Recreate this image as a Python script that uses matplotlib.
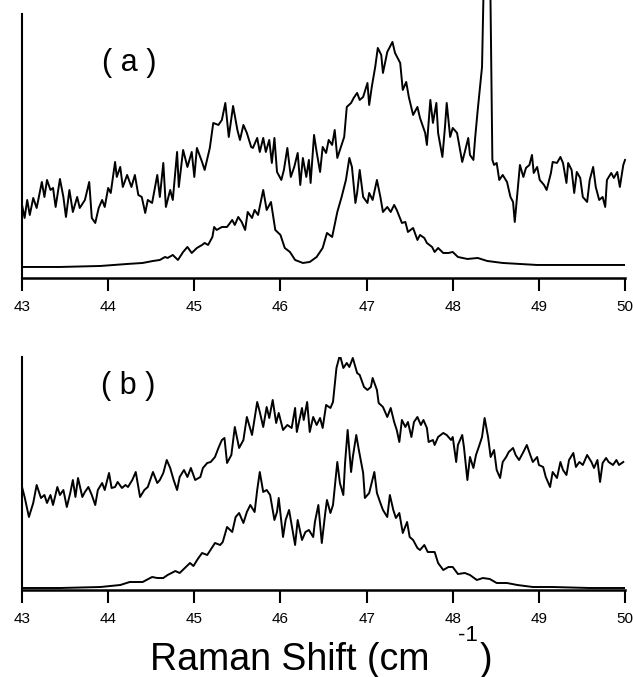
import numpy as np
import matplotlib.pyplot as plt

plt.rcParams['font.family'] = ['Liberation Sans', 'DejaVu Sans']

# ---- panel (a): upper (noisy) spectrum ----
a_up_x = [43.00, 43.03, 43.06, 43.09, 43.13, 43.17, 43.23, 43.26, 43.29, 43.33, 43.36, 43.39, 43.44, 43.48,
          43.51, 43.55, 43.59, 43.64, 43.67, 43.73, 43.78, 43.81, 43.85, 43.89, 43.93, 43.96, 44.00, 44.03,
          44.08, 44.10, 44.14, 44.17, 44.22, 44.27, 44.31, 44.35, 44.39, 44.43, 44.46, 44.51, 44.57, 44.60,
          44.64, 44.67, 44.72, 44.75, 44.80, 44.82, 44.87, 44.92, 44.97, 45.00, 45.03, 45.09, 45.12, 45.18,
          45.22, 45.28, 45.32, 45.36, 45.40, 45.45, 45.50, 45.53, 45.57, 45.61, 45.66, 45.68, 45.73, 45.76,
          45.80, 45.83, 45.87, 45.90, 45.93, 45.96, 46.01, 46.04, 46.08, 46.12, 46.16, 46.20, 46.23, 46.26,
          46.30, 46.33, 46.35, 46.39, 46.42, 46.46, 46.49, 46.53, 46.56, 46.60, 46.63, 46.66, 46.71, 46.74,
          46.77, 46.82, 46.85, 46.89, 46.92, 46.96, 47.01, 47.03, 47.06, 47.10, 47.13, 47.17, 47.19, 47.24,
          47.30, 47.33, 47.39, 47.42, 47.46, 47.49, 47.54, 47.59, 47.62, 47.68, 47.70, 47.74, 47.77, 47.81,
          47.83, 47.88, 47.91, 47.93, 47.97, 48.00, 48.05, 48.11, 48.14, 48.18, 48.20, 48.24, 48.26, 48.29,
          48.34, 48.37, 48.43, 48.46, 48.48, 48.51, 48.54, 48.58, 48.63, 48.67, 48.70, 48.72, 48.75, 48.78,
          48.82, 48.85, 48.89, 48.92, 48.94, 48.98, 49.01, 49.06, 49.09, 49.14, 49.16, 49.21, 49.25, 49.28,
          49.32, 49.34, 49.38, 49.41, 49.44, 49.48, 49.51, 49.56, 49.59, 49.63, 49.66, 49.70, 49.74, 49.77,
          49.79, 49.84, 49.87, 49.91, 49.94, 49.98, 50.00]
a_up_y = [73, 60, 78, 63, 80, 70, 96, 81, 98, 88, 90, 71, 99, 81,
          61, 88, 66, 81, 70, 78, 96, 60, 55, 70, 78, 71, 90, 85,
          116, 101, 111, 91, 103, 91, 103, 83, 81, 65, 78, 75, 103, 81,
          115, 71, 88, 78, 126, 91, 128, 111, 126, 101, 130, 116, 108, 130,
          155, 153, 158, 175, 141, 172, 148, 138, 153, 145, 131, 130, 140, 126,
          140, 126, 138, 115, 140, 106, 98, 108, 130, 101, 111, 125, 93, 120,
          101, 118, 95, 143, 126, 106, 131, 125, 138, 133, 148, 120, 133, 141,
          171, 175, 180, 185, 178, 181, 195, 173, 191, 211, 230, 223, 205, 226,
          236, 225, 215, 188, 196, 181, 163, 171, 160, 145, 133, 178, 155, 175,
          145, 121, 151, 175, 141, 150, 145, 116, 126, 140, 123, 118, 140, 168,
          211, 340, 340, 118, 113, 115, 98, 103, 96, 81, 76, 56, 85, 113,
          101, 110, 113, 123, 105, 111, 98, 93, 88, 105, 116, 115, 121, 115,
          95, 115, 108, 85, 106, 100, 81, 76, 98, 111, 91, 78, 81, 71,
          98, 105, 100, 106, 91, 113, 118]

# ---- panel (a): lower spectrum ----
a_lo_x = [43.00, 43.44, 43.91, 44.22, 44.40, 44.52, 44.60, 44.66, 44.69, 44.75, 44.81, 44.87, 44.92, 44.97,
          45.03, 45.09, 45.12, 45.16, 45.21, 45.23, 45.26, 45.32, 45.38, 45.44, 45.47, 45.51, 45.55, 45.59,
          45.62, 45.67, 45.70, 45.74, 45.80, 45.84, 45.89, 45.94, 46.00, 46.05, 46.11, 46.17, 46.26, 46.34,
          46.42, 46.49, 46.54, 46.60, 46.66, 46.71, 46.76, 46.80, 46.83, 46.87, 46.89, 46.92, 46.96, 47.01,
          47.03, 47.07, 47.12, 47.16, 47.19, 47.24, 47.28, 47.32, 47.35, 47.41, 47.45, 47.48, 47.54, 47.59,
          47.62, 47.67, 47.70, 47.76, 47.79, 47.83, 47.89, 47.95, 48.00, 48.06, 48.17, 48.29, 48.40, 48.58,
          48.98, 49.48, 50.00]
a_lo_y = [11, 11, 12, 14, 15, 17, 18, 21, 20, 23, 18, 26, 31, 25,
          30, 33, 35, 33, 41, 51, 48, 51, 51, 58, 53, 61, 56, 48,
          66, 60, 68, 63, 88, 68, 76, 48, 43, 30, 26, 18, 15, 16,
          21, 30, 45, 41, 66, 81, 98, 120, 111, 75, 85, 108, 81, 75,
          85, 78, 98, 81, 66, 71, 66, 73, 68, 55, 56, 46, 50, 38,
          43, 40, 35, 31, 26, 30, 25, 25, 26, 21, 19, 20, 17, 15,
          13, 13, 13]

# ---- panel (b): upper (noisy) spectrum ----
b_up_x = [43.00, 43.03, 43.08, 43.13, 43.17, 43.22, 43.26, 43.29, 43.33, 43.36, 43.41, 43.44, 43.48, 43.52,
          43.56, 43.59, 43.62, 43.65, 43.70, 43.73, 43.77, 43.81, 43.85, 43.88, 43.93, 43.96, 44.01, 44.04,
          44.08, 44.11, 44.16, 44.20, 44.23, 44.28, 44.32, 44.37, 44.42, 44.46, 44.52, 44.57, 44.60, 44.64,
          44.68, 44.72, 44.76, 44.80, 44.83, 44.88, 44.92, 44.96, 45.01, 45.07, 45.10, 45.15, 45.19, 45.24,
          45.28, 45.32, 45.35, 45.38, 45.43, 45.47, 45.52, 45.57, 45.61, 45.67, 45.73, 45.76, 45.80, 45.84,
          45.87, 45.91, 45.95, 45.98, 46.03, 46.08, 46.13, 46.17, 46.19, 46.25, 46.27, 46.31, 46.34, 46.38,
          46.42, 46.46, 46.49, 46.53, 46.58, 46.61, 46.65, 46.69, 46.73, 46.77, 46.80, 46.84, 46.89, 46.92,
          46.97, 47.01, 47.05, 47.07, 47.12, 47.14, 47.19, 47.24, 47.28, 47.32, 47.35, 47.38, 47.41, 47.45,
          47.48, 47.52, 47.55, 47.59, 47.63, 47.66, 47.70, 47.72, 47.77, 47.79, 47.83, 47.89, 47.93, 47.98,
          48.00, 48.04, 48.06, 48.11, 48.13, 48.17, 48.20, 48.24, 48.27, 48.31, 48.34, 48.37, 48.41, 48.44,
          48.48, 48.51, 48.55, 48.58, 48.62, 48.65, 48.70, 48.73, 48.77, 48.82, 48.86, 48.90, 48.93, 48.98,
          49.00, 49.05, 49.08, 49.13, 49.16, 49.21, 49.25, 49.28, 49.32, 49.35, 49.40, 49.43, 49.47, 49.51,
          49.56, 49.61, 49.64, 49.68, 49.71, 49.74, 49.78, 49.81, 49.86, 49.90, 49.93, 49.98]
b_up_y = [103, 93, 73, 87, 105, 92, 95, 87, 95, 85, 103, 95, 100, 83,
          97, 110, 93, 112, 93, 98, 103, 95, 85, 100, 107, 100, 117, 102,
          103, 108, 102, 105, 103, 110, 118, 93, 100, 103, 118, 107, 110, 117,
          130, 122, 110, 100, 113, 120, 113, 122, 110, 113, 122, 127, 128, 133,
          142, 150, 152, 127, 135, 163, 142, 150, 173, 155, 188, 178, 163, 183,
          172, 190, 167, 177, 160, 165, 162, 182, 158, 182, 170, 188, 158, 173,
          165, 172, 162, 185, 182, 188, 222, 235, 222, 227, 223, 232, 217, 215,
          203, 200, 203, 212, 200, 187, 183, 173, 182, 168, 160, 148, 170, 163,
          168, 153, 168, 173, 165, 170, 162, 148, 150, 145, 153, 157, 155, 150,
          153, 128, 145, 155, 143, 110, 133, 122, 135, 145, 153, 172, 153, 133,
          140, 120, 112, 128, 133, 138, 142, 135, 130, 138, 145, 135, 128, 133,
          125, 123, 113, 103, 118, 112, 128, 120, 115, 130, 137, 123, 128, 125,
          135, 128, 122, 130, 108, 127, 132, 128, 125, 130, 125, 128]

# ---- panel (b): lower spectrum ----
b_lo_x = [43.00, 43.44, 43.91, 44.14, 44.25, 44.40, 44.51, 44.57, 44.64, 44.69, 44.78, 44.83, 44.89, 44.95,
          44.99, 45.04, 45.09, 45.15, 45.21, 45.24, 45.30, 45.33, 45.38, 45.44, 45.48, 45.52, 45.57, 45.61,
          45.65, 45.70, 45.73, 45.76, 45.80, 45.84, 45.88, 45.93, 45.96, 45.98, 46.03, 46.06, 46.10, 46.13,
          46.17, 46.20, 46.25, 46.29, 46.33, 46.38, 46.40, 46.44, 46.48, 46.52, 46.54, 46.58, 46.61, 46.66,
          46.69, 46.73, 46.75, 46.78, 46.82, 46.84, 46.88, 46.91, 46.96, 46.98, 47.03, 47.09, 47.12, 47.16,
          47.19, 47.24, 47.27, 47.31, 47.34, 47.38, 47.42, 47.47, 47.50, 47.54, 47.59, 47.62, 47.67, 47.71,
          47.79, 47.83, 47.89, 47.95, 48.00, 48.06, 48.14, 48.20, 48.28, 48.35, 48.43, 48.51, 48.63, 48.75,
          48.93, 49.16, 49.59, 50.00]
b_lo_y = [2, 2, 3, 5, 8, 8, 13, 12, 12, 15, 19, 17, 22, 27,
          24, 31, 37, 35, 43, 47, 45, 48, 63, 58, 73, 77, 67, 78,
          85, 78, 100, 118, 98, 100, 95, 70, 78, 92, 53, 70, 80, 65,
          45, 70, 50, 58, 60, 53, 68, 85, 47, 77, 90, 77, 85, 128,
          107, 95, 127, 160, 118, 133, 155, 140, 117, 92, 97, 118, 97, 87,
          80, 73, 95, 80, 72, 77, 57, 68, 53, 50, 42, 40, 45, 38,
          38, 27, 20, 23, 23, 16, 17, 15, 10, 12, 11, 7, 7, 5,
          3, 3, 2, 2]

xticks = [43, 44, 45, 46, 47, 48, 49, 50]

fig = plt.figure(figsize=(6.33, 6.77), dpi=100)
ax_a = fig.add_axes([0.0348, 0.5894, 0.9526, 0.3900])
ax_b = fig.add_axes([0.0348, 0.1285, 0.9526, 0.3442])

lw = 1.4
ax_a.plot(a_up_x, a_up_y, color='black', lw=lw, clip_on=False)
ax_a.plot(a_lo_x, a_lo_y, color='black', lw=lw)
ax_b.plot(b_up_x, b_up_y, color='black', lw=lw)
ax_b.plot(b_lo_x, b_lo_y, color='black', lw=lw)

ax_a.set_ylim(0, 264)
ax_b.set_ylim(0, 233)

for ax in (ax_a, ax_b):
    ax.set_xlim(43, 50)
    ax.set_xticks(xticks)
    ax.set_xticklabels([str(t) for t in xticks])
    ax.set_yticks([])
    ax.spines['top'].set_visible(False)
    ax.spines['right'].set_visible(False)
    ax.spines['left'].set_linewidth(1.5)
    ax.spines['bottom'].set_linewidth(1.8)
    ax.tick_params(axis='x', direction='out', length=9, width=1.5, pad=7, labelsize=11)
    ax.patch.set_alpha(0)

ax_a.text(0.177, 0.814, '( a )', transform=ax_a.transAxes, fontsize=22, ha='center', va='center')
ax_b.text(0.176, 0.875, '( b )', transform=ax_b.transAxes, fontsize=22, ha='center', va='center')

fig.text(150 / 633, 1 - 670 / 677, 'Raman Shift (cm', fontsize=27, ha='left', va='baseline')
fig.text(458 / 633, 1 - 641 / 677, '-1', fontsize=16, ha='left', va='baseline')
fig.text(480 / 633, 1 - 670 / 677, ')', fontsize=27, ha='left', va='baseline')

fig.savefig('out.png', dpi=100)
